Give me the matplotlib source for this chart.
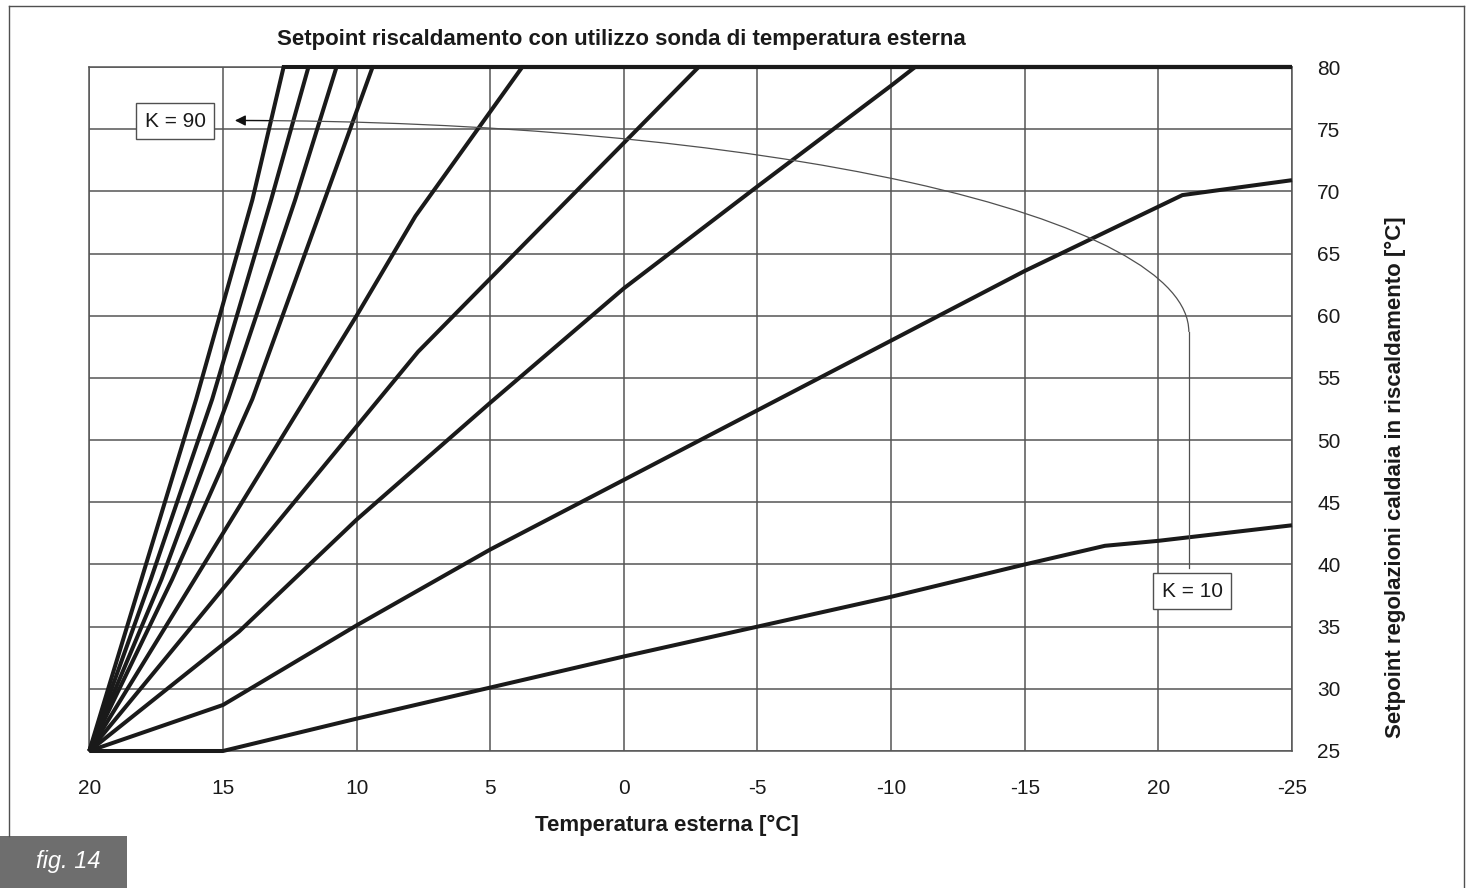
import matplotlib
matplotlib.use('Agg')
import matplotlib.pyplot as plt
from matplotlib.patches import Arc, Rectangle
from matplotlib.lines import Line2D

plt.rcParams['font.family'] = ['Liberation Sans', 'DejaVu Sans']

# ---------------- data ----------------
x_ticks = [20, 15, 10, 5, 0, -5, -10, -15, -20, -25]
x_tick_labels = ['20', '15', '10', '5', '0', '-5', '-10', '-15', '20', '-25']
y_ticks = [25, 30, 35, 40, 45, 50, 55, 60, 65, 70, 75, 80]

k10_x = [20, 15, 10, 5, 0, -5, -10, -15, -18, -20, -25]
k10_y = [25, 25, 27.6, 30.1, 32.6, 35.0, 37.4, 40.0, 41.5, 41.9, 43.15]
k20_x = [20, 15, 10, 5, 0, -5, -10, -15, -20.9, -25]
k20_y = [25, 28.7, 35.1, 41.2, 46.8, 52.4, 58.0, 63.6, 69.7, 70.9]
k30_x = [20, 14.4, 10, 5, 0, -5, -10, -10.9, -25]
k30_y = [25, 34.6, 43.6, 53.0, 62.2, 70.4, 78.5, 80, 80]
k40_x = [20, 7.7, -2.8, -25]
k40_y = [25, 57.1, 80, 80]
k50_x = [20, 10, 7.8, 3.8, -25]
k50_y = [25, 60, 68.0, 80, 80]
k60_x = [20, 16.9, 13.9, 11.2, 9.4, -25]
k60_y = [25, 38.8, 53.3, 69.3, 80, 80]
k70_x = [20, 17.3, 14.8, 12.3, 10.75, -25]
k70_y = [25, 38.8, 53.3, 69.3, 80, 80]
k80_x = [20, 17.7, 15.4, 13.2, 11.8, -25]
k80_y = [25, 38.8, 53.3, 69.3, 80, 80]
k90_x = [20, 18.05, 16.0, 13.9, 12.73, -25]
k90_y = [25, 38.8, 53.3, 69.3, 80, 80]

curves = [(k10_x, k10_y), (k20_x, k20_y), (k30_x, k30_y), (k40_x, k40_y),
          (k50_x, k50_y), (k60_x, k60_y), (k70_x, k70_y), (k80_x, k80_y),
          (k90_x, k90_y)]

title = 'Setpoint riscaldamento con utilizzo sonda di temperatura esterna'
x_label = 'Temperatura esterna [°C]'
y_label = 'Setpoint regolazioni caldaia in riscaldamento [°C]'

# ---------------- figure ----------------
W, H = 1469, 888
fig = plt.figure(figsize=(W / 100, H / 100), dpi=100)
ax = fig.add_axes([89.3 / W, 1 - 751 / H, (1292 - 89.3) / W, (751 - 67) / H])

grid_c = '#555555'
ax.set_xlim(20, -25)
ax.set_ylim(25, 80)
ax.set_xticks(x_ticks)
ax.set_xticklabels(x_tick_labels)
ax.set_yticks(y_ticks)
ax.yaxis.tick_right()
ax.tick_params(axis='both', length=0, labelsize=15, colors='#1a1a1a')
ax.tick_params(axis='x', pad=20)
ax.tick_params(axis='y', pad=18)
ax.grid(True, color=grid_c, lw=1.1)
ax.set_axisbelow(True)
for s in ax.spines.values():
    s.set_color(grid_c)
    s.set_linewidth(1.1)

for cx, cy in curves:
    ax.plot(cx, cy, color='#1a1a1a', lw=2.9, solid_joinstyle='miter',
            solid_capstyle='butt', clip_on=False, zorder=3)

# annotation curve K=90 -> K=10
arc = Arc((14.5, 58.7), width=2 * 35.64, height=2 * 17.0, theta1=90, theta2=180,
          color='#505050', lw=0.9, zorder=4)
ax.add_patch(arc)
ax.plot([-21.14, -21.14], [58.7, 39.7], color='#505050', lw=0.9, zorder=4)
ax.annotate('', xy=(14.55, 75.7), xytext=(13.2, 75.69),
            arrowprops=dict(arrowstyle='-|>', color='#111111', lw=0.9,
                            mutation_scale=16, shrinkA=0, shrinkB=0), zorder=5)

box = dict(boxstyle='square,pad=0.4', facecolor='white', edgecolor='#505050', lw=1.0)
ax.text(16.79, 75.64, 'K = 90', fontsize=15, ha='center', va='center',
        bbox=box, zorder=6, color='#1a1a1a')
ax.text(-21.26, 37.86, 'K = 10', fontsize=15, ha='center', va='center',
        bbox=box, zorder=6, color='#1a1a1a')

# titles
fig.text(621 / W, 1 - 40 / H, title, fontsize=16, fontweight='bold',
         ha='center', va='center', color='#1a1a1a')
fig.text(667 / W, 1 - 825 / H, x_label, fontsize=16, fontweight='bold',
         ha='center', va='center', color='#1a1a1a')
fig.text(1395 / W, 1 - 477 / H, y_label, fontsize=16, fontweight='bold',
         ha='center', va='center', rotation=90, color='#1a1a1a')

# outer frame
fc = '#505050'
fig.add_artist(Line2D([9 / W, 9 / W], [1 - 6 / H, 1 - 836 / H], color=fc, lw=1.0,
                      transform=fig.transFigure))
fig.add_artist(Line2D([9 / W, 1464 / W], [1 - 6 / H, 1 - 6 / H], color=fc, lw=1.0,
                      transform=fig.transFigure))
fig.add_artist(Line2D([1464 / W, 1464 / W], [1 - 6 / H, 0], color=fc, lw=1.0,
                      transform=fig.transFigure))

# fig. 14 label
fig.add_artist(Rectangle((0, 0), 127 / W, 52 / H, transform=fig.transFigure,
                         facecolor='#6e6e6e', edgecolor='none'))
fig.text(68 / W, 1 - 861 / H, 'fig. 14', fontsize=17, style='italic',
         color='white', ha='center', va='center')

fig.savefig('out.png', dpi=100)
